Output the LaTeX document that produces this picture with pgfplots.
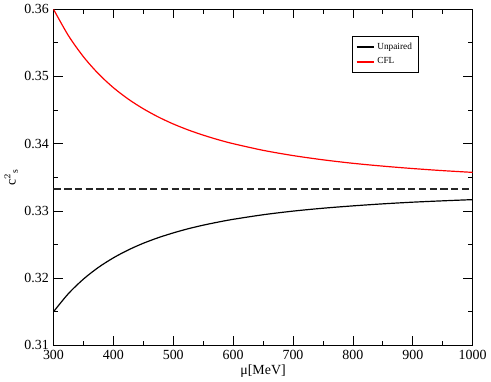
\documentclass[border=0pt]{standalone}
\usepackage{pgfplots}
\pgfplotsset{compat=1.18}
\usepackage{fontspec}
\setmainfont{Liberation Serif}

\begin{document}
\begin{tikzpicture}
\begin{axis}[
    width=316pt, height=253.5pt,
    scale only axis,
    xmin=300, xmax=1000,
    ymin=0.31, ymax=0.36,
    xtick={300,400,...,1000},
    ytick={0.31,0.32,...,0.36},
    minor tick num=1,
    tick align=inside,
    major tick length=7pt,
    minor tick length=3.5pt,
    tick style={black, line width=0.5pt},
    axis line style={line width=0.8pt},
    yticklabel style={/pgf/number format/fixed, /pgf/number format/precision=2,
        /pgf/number format/fixed zerofill},
    xticklabel style={/pgf/number format/set thousands separator={}},
    /pgf/number format/assume math mode=true,
    ticklabel style={font=\fontsize{10.5}{12}\selectfont},
    xlabel={μ[MeV]},
    ylabel={c$^{2}{}_{\mathrm{s}}$},
    label style={font=\fontsize{10.5}{12}\selectfont},
    xlabel style={yshift=3pt},
    ylabel style={yshift=-2pt},
    legend style={at={(0.870,0.919)}, anchor=north east,
        font=\fontsize{7}{8}\selectfont,
        inner sep=2.5pt, row sep=1pt},
    legend cell align=left,
    legend image code/.code={\draw[#1, line width=1.3pt] (0pt,0pt) -- (13pt,0pt);},
]
\addplot[black, line width=0.9pt, smooth] coordinates {
    (300,0.31500) (325,0.31771) (350,0.31986) (375,0.32160) (400,0.32302)
    (425,0.32420) (450,0.32519) (475,0.32602) (500,0.32673) (525,0.32735)
    (550,0.32788) (575,0.32834) (600,0.32875) (650,0.32943) (700,0.32997)
    (750,0.33040) (800,0.33075) (850,0.33105) (900,0.33130) (950,0.33150)
    (1000,0.33168)
};
\addlegendentry{Unpaired}
\addplot[red, line width=0.9pt, smooth] coordinates {
    (300,0.36000) (325,0.35606) (350,0.35293) (375,0.35040) (400,0.34833)
    (425,0.34662) (450,0.34519) (475,0.34397) (500,0.34293) (525,0.34204)
    (550,0.34127) (575,0.34059) (600,0.34000) (650,0.33901) (700,0.33823)
    (750,0.33760) (800,0.33708) (850,0.33666) (900,0.33630) (950,0.33599)
    (1000,0.33573)
};
\addlegendentry{CFL}
\addplot[black!85, line width=1.5pt, dash pattern=on 5.5pt off 2.6pt, forget plot]
    coordinates {(300,0.33333) (1000,0.33333)};
\end{axis}
\end{tikzpicture}
\end{document}
